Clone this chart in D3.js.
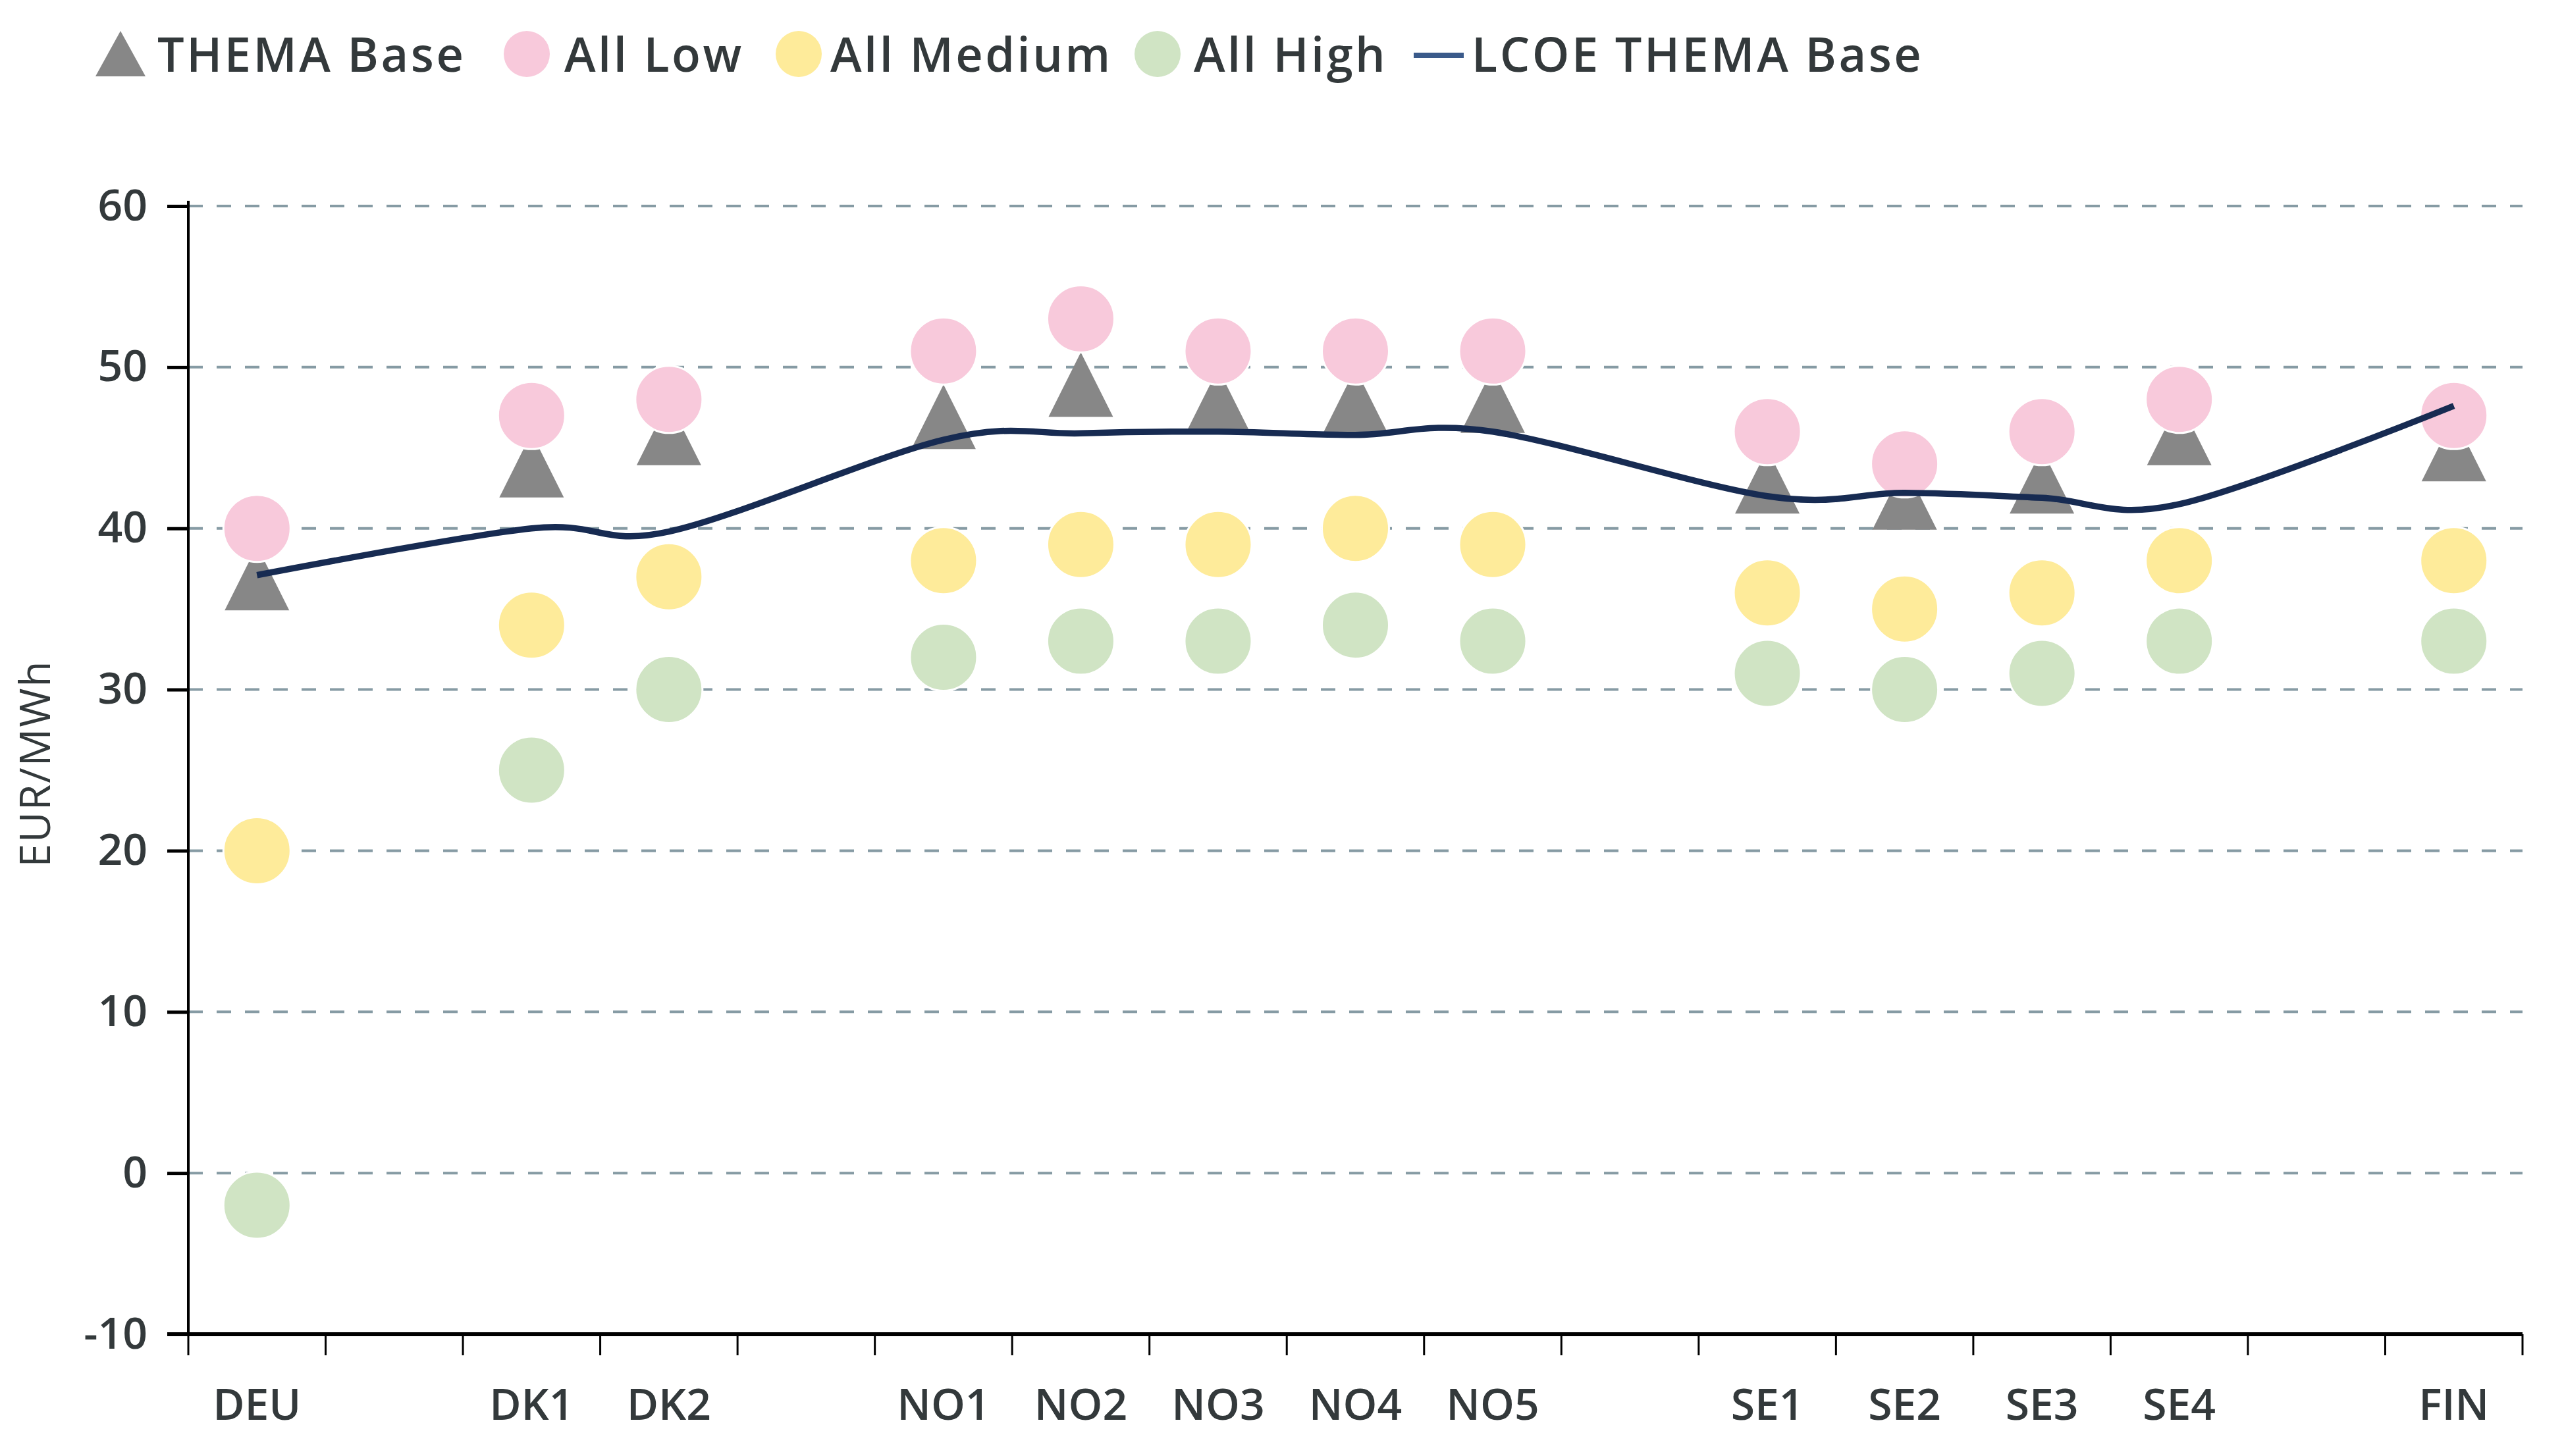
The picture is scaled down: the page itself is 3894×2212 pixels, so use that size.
<!DOCTYPE html>
<html>
<head>
<meta charset="utf-8">
<script src="https://cdn.jsdelivr.net/npm/d3@7"></script>
<style>
  body { margin: 0; background: #fff; }
  text { font-family: "Open Sans", Lato, sans-serif; fill: #33393b; }
</style>
</head>
<body>
<div id="chart"></div>
<script>
// x slots, the "_" ones are empty spacer categories between the countries
const xCategories = ["DEU", "_1", "DK1", "DK2", "_2", "NO1", "NO2", "NO3", "NO4", "NO5", "_3", "SE1", "SE2", "SE3", "SE4", "_4", "FIN"];
const regions = ["DEU", "DK1", "DK2", "NO1", "NO2", "NO3", "NO4", "NO5", "SE1", "SE2", "SE3", "SE4", "FIN"];

// EUR/MWh
const themaBase = [37, 44, 46, 47, 49, 48, 48, 48, 43, 42, 43, 46, 45];
const allLow = [40, 47, 48, 51, 53, 51, 51, 51, 46, 44, 46, 48, 47];
const allMedium = [20, 34, 37, 38, 39, 39, 40, 39, 36, 35, 36, 38, 38];
const allHigh = [-2, 25, 30, 32, 33, 33, 34, 33, 31, 30, 31, 33, 33];
const lcoeBase = [37.1, 40, 39.8, 45.5, 45.9, 46, 45.8, 46, 42, 42.2, 41.9, 41.5, 47.6];

const yTicks = [-10, 0, 10, 20, 30, 40, 50, 60];

const legendItems = ["THEMA Base", "All Low", "All Medium", "All High", "LCOE THEMA Base"];
const colors = {
    "THEMA Base": "#878787",
    "All Low": "#f8c9db",
    "All Medium": "#feeb9a",
    "All High": "#d0e4c4",
    "LCOE THEMA Base": "#172b52"
};

const width = 3894, height = 2212;
const margin = { top: 313, right: 63, bottom: 185, left: 286 };

const svg = d3.select("#chart")
    .append("svg")
    .attr("width", width)
    .attr("height", height);

const xScale = d3.scaleBand()
    .domain(xCategories)
    .range([margin.left, width - margin.right]);

const yScale = d3.scaleLinear()
    .domain([-10, 60])
    .range([height - margin.bottom, margin.top]);

const xPos = (r) => xScale(r) + xScale.bandwidth() / 2;

// dashed gridlines
svg.append("g")
    .selectAll("line")
    .data(yTicks.filter((d) => d > -10))
    .enter()
    .append("line")
    .attr("x1", margin.left)
    .attr("x2", width - margin.right)
    .attr("y1", (d) => yScale(d))
    .attr("y2", (d) => yScale(d))
    .attr("stroke", "#869ba4")
    .attr("stroke-width", 4)
    .attr("stroke-dasharray", "22,21");

// y axis
const yAxis = svg.append("g")
    .attr("transform", `translate(${margin.left},0)`)
    .call(d3.axisLeft(yScale).tickValues(yTicks).tickSize(32).tickPadding(30)
        .tickFormat((d) => String(d)));
yAxis.select(".domain").remove();
yAxis.selectAll(".tick line").attr("stroke", "#000").attr("stroke-width", 5);
yAxis.selectAll(".tick text")
    .style("font-size", "66px")
    .style("font-weight", 600)
    .attr("fill", "#3a3a3a");
svg.append("line")
    .attr("x1", margin.left).attr("x2", margin.left)
    .attr("y1", margin.top - 8).attr("y2", yScale(-10))
    .attr("stroke", "#000").attr("stroke-width", 4);

// x axis with ticks at the band edges
const xAxis = svg.append("g")
    .attr("transform", `translate(0,${yScale(-10)})`);
xAxis.append("line")
    .attr("x1", margin.left - 32).attr("x2", width - margin.right)
    .attr("stroke", "#000").attr("stroke-width", 6);
xAxis.selectAll(".xtick")
    .data(xCategories.concat(["end"]))
    .enter()
    .append("line")
    .attr("class", "xtick")
    .attr("x1", (d, i) => i < xCategories.length ? xScale(d) : xScale.range()[1])
    .attr("x2", (d, i) => i < xCategories.length ? xScale(d) : xScale.range()[1])
    .attr("y1", 0).attr("y2", 32)
    .attr("stroke", "#000").attr("stroke-width", 3);
xAxis.selectAll(".xlabel")
    .data(regions)
    .enter()
    .append("text")
    .attr("class", "xlabel")
    .attr("x", (d) => xPos(d))
    .attr("y", 130)
    .attr("text-anchor", "middle")
    .style("font-size", "66px")
    .style("font-weight", 600)
    .attr("fill", "#3a3a3a")
    .text((d) => d);

// y axis title
svg.append("text")
    .attr("transform", `translate(76,1160) rotate(-90)`)
    .attr("text-anchor", "middle")
    .style("font-size", "64px")
    .style("letter-spacing", "2px")
    .attr("fill", "#3a3a3a")
    .text("EUR/MWh");

// triangle marker path centred on the data point
const tri = (cx, cy) => `M${cx},${cy - 47} L${cx + 49},${cy + 51} L${cx - 49},${cy + 51} Z`;

svg.append("g")
    .selectAll("path")
    .data(regions)
    .enter()
    .append("path")
    .attr("d", (d, i) => tri(xPos(d), yScale(themaBase[i])))
    .attr("fill", colors["THEMA Base"]);

const dotSeries = [["All Low", allLow], ["All Medium", allMedium], ["All High", allHigh]];
dotSeries.forEach(([name, values]) => {
    svg.append("g")
        .selectAll("circle")
        .data(regions)
        .enter()
        .append("circle")
        .attr("cx", (d) => xPos(d))
        .attr("cy", (d, i) => yScale(values[i]))
        .attr("r", 51)
        .attr("fill", colors[name])
        .attr("stroke", "#fff")
        .attr("stroke-width", 3);
});

// smoothed LCOE line on top
const line = d3.line()
    .x((d) => xPos(d.region))
    .y((d) => yScale(d.value))
    .curve(d3.curveCatmullRom.alpha(0));

svg.append("path")
    .attr("d", line(regions.map((r, i) => ({ region: r, value: lcoeBase[i] }))))
    .attr("fill", "none")
    .attr("stroke", colors["LCOE THEMA Base"])
    .attr("stroke-width", 9.5)
    .attr("stroke-linejoin", "round");

// legend
const legendX = [183, 800, 1213, 1758, 2185];
const textX = [239, 857, 1261, 1813, 2235];
const legend = svg.append("g");
legendItems.forEach((name, i) => {
    if (name === "THEMA Base") {
        legend.append("path")
            .attr("d", `M${legendX[i]},47 L${legendX[i] + 38},116 L${legendX[i] - 38},116 Z`)
            .attr("fill", colors[name]);
    } else if (name === "LCOE THEMA Base") {
        legend.append("line")
            .attr("x1", legendX[i] - 38).attr("x2", legendX[i] + 38)
            .attr("y1", 84).attr("y2", 84)
            .attr("stroke", "#3a5a8a").attr("stroke-width", 8);
    } else {
        legend.append("circle")
            .attr("cx", legendX[i]).attr("cy", 82)
            .attr("r", 35)
            .attr("fill", colors[name]);
    }
    legend.append("text")
        .attr("x", textX[i])
        .attr("y", 109)
        .style("font-size", "72px")
        .style("font-weight", 600)
        .style("letter-spacing", "3.5px")
        .text(name);
});
</script>
</body>
</html>
